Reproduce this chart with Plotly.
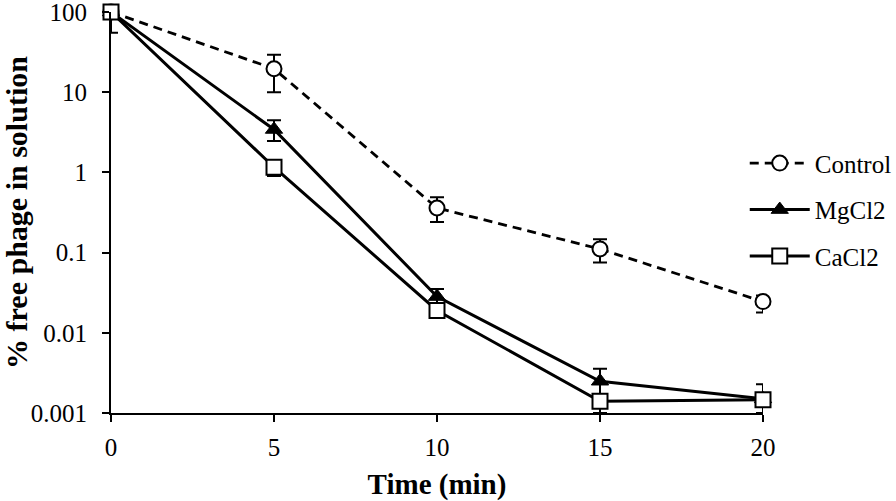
import plotly.graph_objects as go

time_min = [0, 5, 10, 15, 20]

control = [100, 19.6, 0.36, 0.111, 0.0245]
control_err_plus = [0, 9.7, 0.13, 0.036, 0.0046]
control_err_minus = [45, 9.6, 0.12, 0.036, 0.0066]

mgcl2 = [100, 3.43, 0.0283, 0.00249, 0.0015]
mgcl2_err_plus = [0, 1.05, 0.0069, 0.00106, 0.0]
mgcl2_err_minus = [0, 0.97, 0.0069, 0.00106, 0.0]

cacl2 = [100, 1.16, 0.019, 0.0014, 0.00146]
cacl2_err_plus = [0, 0.26, 0.003, 0.0003, 0.00083]
cacl2_err_minus = [0, 0.26, 0.003, 0.0004, 0.00046]

tick_vals = [0.001, 0.01, 0.1, 1, 10, 100]
tick_text = ["0.001", "0.01", "0.1", "1", "10", "100"]
x_ticks = [0, 5, 10, 15, 20]

FONT = "Liberation Serif, Times New Roman, serif"

fig = go.Figure()

def err(plus, minus):
    return dict(type="data", symmetric=False, array=plus, arrayminus=minus,
                color="black", thickness=2, width=7)

fig.add_trace(go.Scatter(
    x=time_min, y=control, name="Control", mode="lines+markers",
    line=dict(color="black", width=2.8, dash="9px,6px"),
    marker=dict(symbol="circle", size=15, color="white", line=dict(color="black", width=2)),
    error_y=err(control_err_plus, control_err_minus), cliponaxis=False,
    legendgroup="a",
))
fig.add_trace(go.Scatter(
    x=time_min, y=mgcl2, name="MgCl2", mode="lines+markers",
    line=dict(color="black", width=3),
    marker=dict(symbol="triangle-up", size=15, color="black", line=dict(color="black", width=1)),
    error_y=err(mgcl2_err_plus, mgcl2_err_minus), cliponaxis=False,
    legendgroup="b",
))
fig.add_trace(go.Scatter(
    x=time_min, y=cacl2, name="CaCl2", mode="lines+markers",
    line=dict(color="black", width=3),
    marker=dict(symbol="square", size=15, color="white", line=dict(color="black", width=2)),
    error_y=err(cacl2_err_plus, cacl2_err_minus), cliponaxis=False,
    legendgroup="c",
))

fig.update_layout(
    width=896, height=501,
    margin=dict(l=111, r=133, t=12, b=88, autoexpand=False),
    plot_bgcolor="white", paper_bgcolor="white",
    font=dict(family=FONT, size=25, color="black"),
    showlegend=True,
    legend=dict(x=0.972, y=0.68, xanchor="left", yanchor="top",
                font=dict(family=FONT, size=25, color="black"),
                tracegroupgap=11, itemwidth=60, bgcolor="rgba(0,0,0,0)"),
    xaxis=dict(
        range=[0, 20], tickmode="array", tickvals=x_ticks,
        showline=True, linecolor="black", linewidth=2,
        ticks="outside", ticklen=7, tickwidth=2, tickcolor="black",
        showgrid=False, zeroline=False, automargin=False,
        ticklabeloverflow="allow", ticklabelstandoff=4,
        title=dict(text="<b>Time (min)</b>", font=dict(family=FONT, size=29), standoff=14),
        tickfont=dict(family=FONT, size=25),
    ),
    yaxis=dict(
        type="log", range=[-3, 2], tickmode="array", tickvals=tick_vals, ticktext=tick_text,
        showline=True, linecolor="black", linewidth=2,
        ticks="outside", ticklen=7, tickwidth=2, tickcolor="black",
        showgrid=False, zeroline=False, automargin=False,
        ticklabeloverflow="allow", ticklabelstandoff=10,
        title=dict(text="<b>% free phage in solution</b>", font=dict(family=FONT, size=30), standoff=0),
        tickfont=dict(family=FONT, size=25),
    ),
)

fig.write_html("out.html", config={"displayModeBar": False},
               post_script="document.body.style.margin='0';document.body.style.padding='0';")
